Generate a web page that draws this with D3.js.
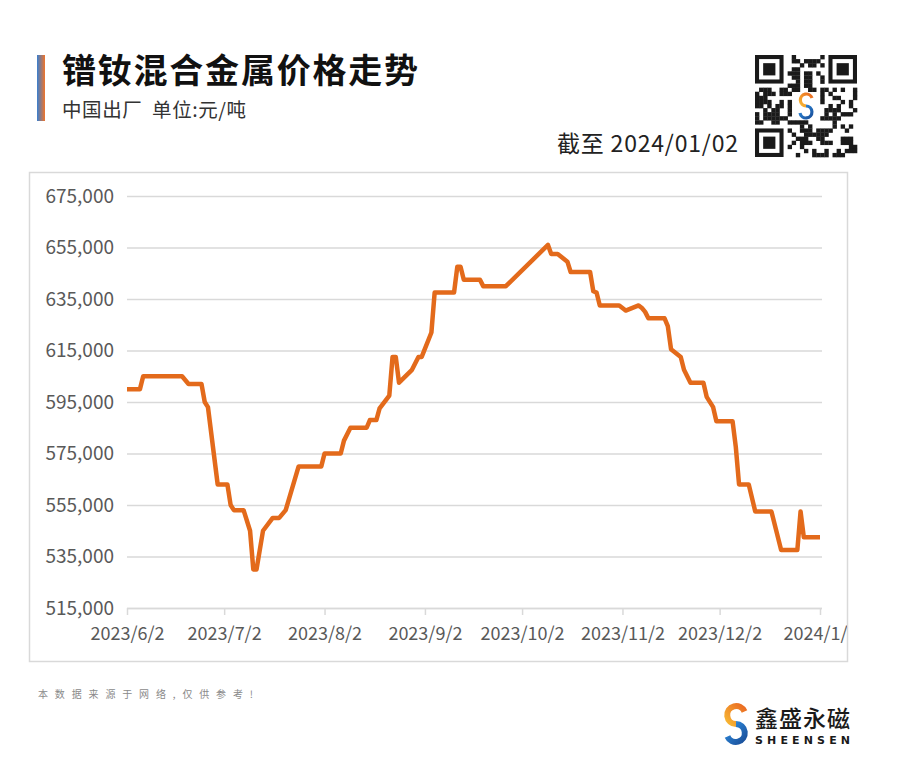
<!DOCTYPE html>
<html><head><meta charset="utf-8">
<script src="https://cdn.jsdelivr.net/npm/d3@7/dist/d3.min.js"></script>
<style>html,body{margin:0;padding:0;background:#fff;}svg{display:block;}</style>
</head><body>
<script>
// ---- data ----
const dates = ["2023-06-02","2023-06-06","2023-06-07","2023-06-19","2023-06-21","2023-06-25","2023-06-26","2023-06-27","2023-06-30","2023-07-03","2023-07-04","2023-07-05","2023-07-08","2023-07-10","2023-07-11","2023-07-12","2023-07-14","2023-07-17","2023-07-19","2023-07-21","2023-07-25","2023-08-01","2023-08-02","2023-08-07","2023-08-08","2023-08-10","2023-08-15","2023-08-16","2023-08-18","2023-08-19","2023-08-22","2023-08-23","2023-08-24","2023-08-25","2023-08-29","2023-08-31","2023-09-01","2023-09-04","2023-09-05","2023-09-11","2023-09-12","2023-09-13","2023-09-14","2023-09-19","2023-09-20","2023-09-27","2023-10-10","2023-10-11","2023-10-13","2023-10-16","2023-10-17","2023-10-23","2023-10-24","2023-10-25","2023-10-26","2023-11-01","2023-11-03","2023-11-07","2023-11-08","2023-11-09","2023-11-10","2023-11-15","2023-11-16","2023-11-17","2023-11-20","2023-11-21","2023-11-23","2023-11-27","2023-11-28","2023-11-30","2023-12-01","2023-12-06","2023-12-07","2023-12-08","2023-12-11","2023-12-13","2023-12-18","2023-12-21","2023-12-26","2023-12-27","2023-12-28","2024-01-02"];
const prices = [600000,600000,605000,605000,602000,602000,595000,593000,563000,563000,555000,553000,553000,545000,530000,530000,545000,550000,550000,553000,570000,570000,575000,575000,580000,585000,585000,588000,588000,592500,597500,612500,612500,602500,607500,612500,612500,622000,637500,637500,647500,647500,642500,642500,640000,640000,656000,652500,652500,649500,645500,645500,638000,637500,632500,632500,630500,632500,631500,630000,627500,627500,624500,615500,612500,607500,602500,602500,597000,593000,587500,587500,577500,563000,563000,552500,552500,537500,537500,552500,542500,542500];
const yTicks = [515000,535000,555000,575000,595000,615000,635000,655000,675000];
const xTickDates = ["2023-06-02","2023-07-02","2023-08-02","2023-09-02","2023-10-02","2023-11-02","2023-12-02","2024-01-02"];
const titleText = "镨钕混合金属价格走势";
const subtitleText = "中国出厂  单位:元/吨";
const asOfText = "截至 2024/01/02";
const footerText = "本 数 据 来 源 于 网 络 , 仅 供 参 考 !";
const brandCN = "鑫盛永磁";
const brandEN = "SHEENSEN";

const W = 900, H = 770;
const parse = d3.timeParse("%Y-%m-%d");
const fmtX = d3.timeFormat("%Y/%-m/%-d");
const series = dates.map((d,i)=>({date:parse(d), value:prices[i]}));

const svg = d3.select("body").append("svg").attr("width",W).attr("height",H);
const defs = svg.append("defs");

const g1 = defs.append("linearGradient").attr("id","accent").attr("x1","0").attr("x2","1").attr("y1","0").attr("y2","0");
g1.append("stop").attr("offset","0%").attr("stop-color","#3a7fcf");
g1.append("stop").attr("offset","100%").attr("stop-color","#f0742a");
const g2 = defs.append("linearGradient").attr("id","logoTop").attr("x1","0").attr("x2","1").attr("y1","1").attr("y2","0");
g2.append("stop").attr("offset","0%").attr("stop-color","#f7b733");
g2.append("stop").attr("offset","100%").attr("stop-color","#ea6a22");
const g3 = defs.append("linearGradient").attr("id","logoBot").attr("x1","0").attr("x2","1").attr("y1","0").attr("y2","1");
g3.append("stop").attr("offset","0%").attr("stop-color","#2f8ee0");
g3.append("stop").attr("offset","100%").attr("stop-color","#1a4f9a");

const FONT = "'Noto Sans CJK SC','Noto Sans',sans-serif";

// header
svg.append("rect").attr("x",37).attr("y",55).attr("width",8).attr("height",66).attr("fill","url(#accent)");
svg.append("text").attr("x",62).attr("y",83).attr("font-family",FONT).attr("font-weight",700)
  .attr("font-size",34).attr("fill","#111").attr("textLength",356).attr("lengthAdjust","spacing").text(titleText);
svg.append("text").attr("x",62).attr("y",117).attr("font-family",FONT)
  .attr("font-size",19.5).attr("fill","#333").style("white-space","pre")
  .attr("textLength",184).attr("lengthAdjust","spacing").text(subtitleText);
svg.append("text").attr("x",557).attr("y",152).attr("font-family",FONT)
  .attr("font-size",23).attr("fill","#222").attr("textLength",181).attr("lengthAdjust","spacing").text(asOfText);

// QR-code-like decoration
(function(){
  const x0=755, y0=55, n=25, s=102/25;
  const qr = svg.append("g");
  let seed = 7;
  function rnd(){ seed = (seed*1103515245 + 12345) % 2147483648; return seed/2147483648; }
  function inFinder(i,j){
    return (i<8&&j<8)||(i>=n-8&&j<8)||(i<8&&j>=n-8);
  }
  for(let j=0;j<n;j++) for(let i=0;i<n;i++){
    if(inFinder(i,j)) continue;
    if(i>=9&&i<=15&&j>=9&&j<=15) continue;
    if(rnd()<0.5) qr.append("rect").attr("x",x0+i*s).attr("y",y0+j*s).attr("width",s+0.3).attr("height",s+0.3).attr("fill","#1a1a1a");
  }
  [[0,0],[n-7,0],[0,n-7]].forEach(([i,j])=>{
    qr.append("rect").attr("x",x0+i*s+s/2).attr("y",y0+j*s+s/2).attr("width",6*s).attr("height",6*s).attr("fill","none").attr("stroke","#1a1a1a").attr("stroke-width",s);
    qr.append("rect").attr("x",x0+(i+2)*s).attr("y",y0+(j+2)*s).attr("width",3*s).attr("height",3*s).attr("fill","#1a1a1a");
  });
  const cx=x0+51, cy=y0+51;
  qr.append("rect").attr("x",cx-12).attr("y",cy-14).attr("width",24).attr("height",28).attr("fill","#fff").attr("rx",3);
  qr.append("path").attr("d",`M${cx+6},${cy-8} A6,6 0 1 0 ${cx},${cy}`).attr("fill","none").attr("stroke","url(#logoTop)").attr("stroke-width",3.2);
  qr.append("path").attr("d",`M${cx},${cy} A6,6 0 1 1 ${cx-6},${cy+7}`).attr("fill","none").attr("stroke","url(#logoBot)").attr("stroke-width",3.2);
})();

// chart frame
svg.append("rect").attr("x",29.5).attr("y",172.5).attr("width",818).attr("height",489).attr("fill","#fff").attr("stroke","#d9d9d9").attr("stroke-width",1.5);
defs.append("clipPath").attr("id","frameClip").append("rect").attr("x",30).attr("y",173).attr("width",817).attr("height",488);

const x = d3.scaleTime().domain([parse("2023-06-02"), parse("2024-01-02")]).range([127, 820]);
const y = d3.scaleLinear().domain([515000, 675000]).range([608, 196]);

// gridlines + y labels
const gridG = svg.append("g").attr("transform","translate(127,0)")
  .call(d3.axisLeft(y).tickValues(yTicks).tickSize(-695).tickFormat(d3.format(",")));
gridG.select(".domain").remove();
gridG.selectAll(".tick line").attr("stroke","#d9d9d9").attr("stroke-width",1.5);
gridG.selectAll(".tick text").attr("x",-13).attr("font-family",FONT).attr("font-size",19).attr("fill","#595959");

// x axis (clipped to frame)
const clipG = svg.append("g").attr("clip-path","url(#frameClip)");
const xAxisG = clipG.append("g").attr("transform","translate(0,608)")
  .call(d3.axisBottom(x).tickValues(xTickDates.map(parse)).tickSize(7).tickFormat(fmtX));
xAxisG.select(".domain").attr("d","M127,0.5H822").attr("stroke","#d9d9d9").attr("stroke-width",1.5);
xAxisG.selectAll(".tick line").attr("stroke","#d9d9d9").attr("stroke-width",1.5);
xAxisG.selectAll(".tick text").attr("y",19).attr("font-family",FONT).attr("font-size",18).attr("fill","#595959");

// line
const line = d3.line().x(d=>x(d.date)).y(d=>y(d.value));
svg.append("path").datum(series).attr("d",line).attr("fill","none")
  .attr("stroke","#e36a1b").attr("stroke-width",4.5).attr("stroke-linejoin","round").attr("stroke-linecap","butt");

// footer
svg.append("text").attr("x",38).attr("y",698).attr("font-family",FONT).attr("font-size",10).attr("fill","#8a8a8a")
  .attr("textLength",215).attr("lengthAdjust","spacing").style("white-space","pre").text(footerText);

// brand logo
const lg = svg.append("g");
lg.append("path").attr("d","M744.5,711.5 A9,9 0 1 0 736,724").attr("fill","none").attr("stroke","url(#logoTop)").attr("stroke-width",6);
lg.append("path").attr("d","M736,724 A9,9 0 1 1 727.5,736.5").attr("fill","none").attr("stroke","url(#logoBot)").attr("stroke-width",6);
lg.append("text").attr("x",755).attr("y",727).attr("font-family",FONT).attr("font-weight",500).attr("font-size",23)
  .attr("fill","#1a1a1a").attr("textLength",95).attr("lengthAdjust","spacing").text(brandCN);
lg.append("text").attr("x",755).attr("y",744).attr("font-family","'DejaVu Sans',sans-serif").attr("font-weight",700).attr("font-size",11)
  .attr("fill","#1a1a1a").attr("textLength",95).attr("lengthAdjust","spacing").text(brandEN);
</script>
</body></html>
